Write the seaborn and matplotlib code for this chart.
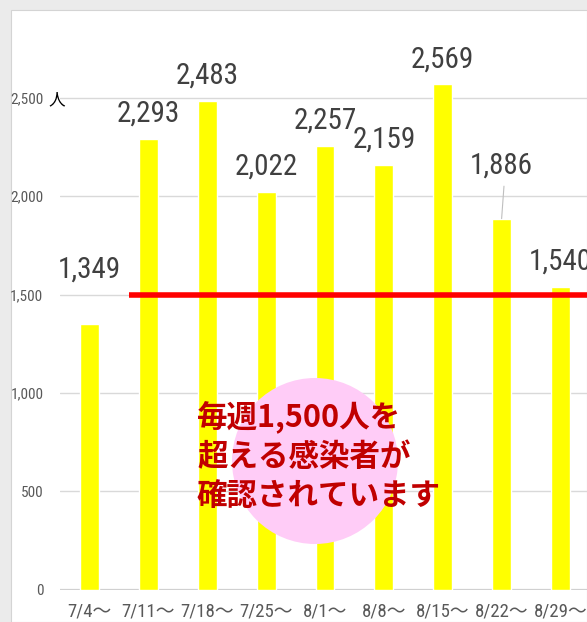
"""
Weekly new cases bar chart (7/4 - 8/29) with 1,500 threshold line
"""

import matplotlib
matplotlib.use('Agg')
import matplotlib.pyplot as plt
from matplotlib import font_manager
from matplotlib.patches import Rectangle, Circle
import seaborn as sns
import pandas as pd

# data
weeks = ['7/4～', '7/11～', '7/18～', '7/25～', '8/1～', '8/8～', '8/15～', '8/22～', '8/29～']
cases = [1349, 2293, 2483, 2022, 2257, 2159, 2569, 1886, 1540]
threshold = 1500
y_ticks = [0, 500, 1000, 1500, 2000, 2500]
note_lines = ['毎週1,500人を', '超える感染者が', '確認されています']

df = pd.DataFrame({'week': weeks, 'cases': cases})

sns.set_style('white')

installed = {f.name for f in font_manager.fontManager.ttflist}


def pick(cands):
    for c in cands:
        if c in installed:
            return c
    return 'DejaVu Sans'


narrow = pick(['Liberation Sans Narrow', 'DejaVu Sans Condensed', 'Roboto Condensed', 'Liberation Sans'])
cjk = 'Noto Sans CJK JP'
plt.rcParams['font.family'] = [narrow, cjk, 'DejaVu Sans']

W, H = 587, 622
fig = plt.figure(figsize=(W / 100, H / 100), dpi=100, facecolor='#ebebeb')

# white panel
fig.add_artist(Rectangle((11 / W, 0), 1 - 11 / W, 1 - 10 / H, transform=fig.transFigure,
                         facecolor='white', edgecolor='#d4d4d4', lw=0.8, zorder=0))

ax = fig.add_axes([60 / W, 1 - 589.5 / H, 1 - 60 / W, (589.5 - 10) / H])
ax.set_facecolor('none')

sns.barplot(data=df, x='week', y='cases', color='#ffff00', saturation=1,
            width=0.32, ax=ax, zorder=2)

ax.set_xlim(-0.5, 8.45)
ax.set_ylim(0, 2947)
ax.set_yticks(y_ticks)
ax.set_yticklabels([f'{v:,}' for v in y_ticks])
ax.grid(axis='y', color='#d9d9d9', lw=1, zorder=0)
ax.axhline(0, color='#d0d0d0', lw=1.6, zorder=1)
for s in ax.spines.values():
    s.set_visible(False)
ax.tick_params(axis='y', length=0, pad=12, labelsize=11, labelcolor='#595959')
ax.tick_params(axis='x', length=0, pad=9, labelsize=13.5, labelcolor='#595959')
ax.set_xlabel('')
ax.set_ylabel('')

fig.text(48 / W, 1 - 100 / H, '人', family=cjk, fontsize=12, color='black', va='center')

# threshold line
ax.plot([0.67, 8.45], [threshold, threshold], color='#ff0000', lw=4, zorder=4,
        solid_capstyle='butt')

# value labels
offsets = {0: 276, 7: 268}
for i, v in enumerate(cases):
    off = offsets.get(i, 128)
    ax.text(i, v + off, f'{v:,}', ha='center', va='center', fontsize=21,
            color='#404040', zorder=5)
ax.plot([7.04, 7.0], [cases[7] + 165, cases[7]], color='#bfbfbf', lw=0.8, zorder=5)

# callout
fig.add_artist(Circle((3.15, (H - 461) / 100), 0.83, transform=fig.dpi_scale_trans,
                      facecolor='#ffccf7', edgecolor='none', zorder=6))
for k, line in enumerate(note_lines):
    fig.text(197 / W, 1 - (418 + 39 * k) / H, line, family=[cjk], fontsize=22,
             fontweight='bold', color='#c00000', va='center', ha='left', zorder=7)

plt.savefig('out.png', dpi=100, facecolor=fig.get_facecolor())
